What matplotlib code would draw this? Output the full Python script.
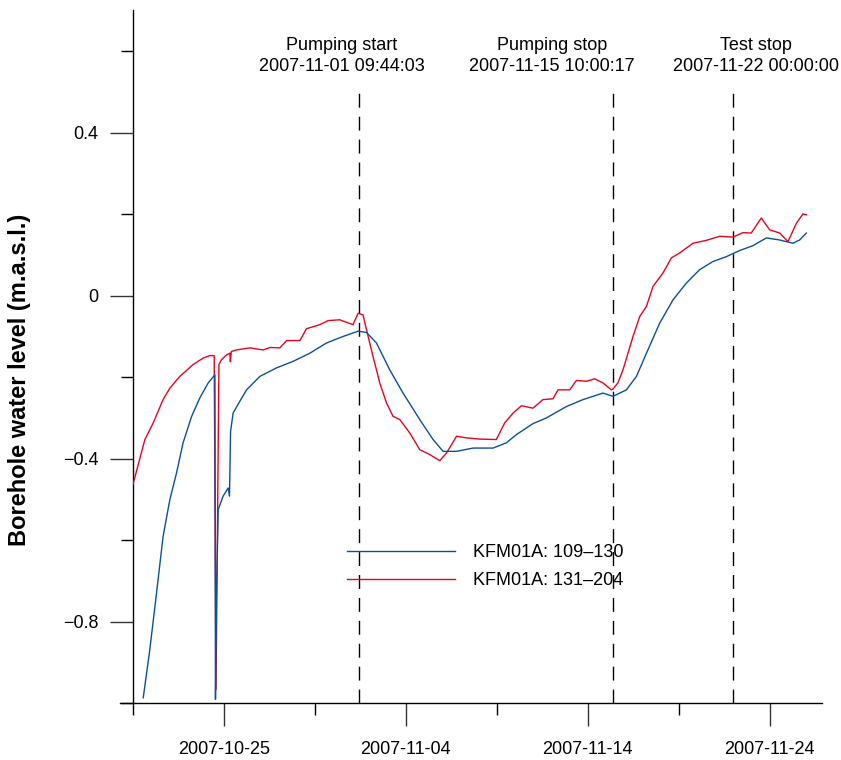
import datetime as dt
import numpy as np
import matplotlib
matplotlib.use("Agg")
import matplotlib.pyplot as plt
import matplotlib.dates as mdates
import matplotlib.ticker as ticker

plt.rcParams['font.family'] = ['Liberation Sans', 'DejaVu Sans']

# days after 2007-10-25 and borehole level (m.a.s.l.)
base_day = dt.datetime(2007, 10, 25)

red_days = [-5.0, -4.34, -3.88, -3.34, -2.97, -2.42, -1.69, -1.14, -0.77, -0.53,
            -0.43, -0.27, -0.13, 0.15, 0.33, 0.36, 0.41, 0.70, 1.43, 2.16,
            2.53, 3.08, 3.45, 4.18, 4.54, 5.27, 5.73, 6.37, 7.10, 7.38,
            7.65, 7.84, 8.20, 8.57, 8.94, 9.30, 9.67, 10.22, 10.77, 11.32,
            11.87, 12.24, 12.79, 13.34, 14.07, 14.98, 15.44, 15.90, 16.36, 16.99,
            17.54, 18.09, 18.37, 19.01, 19.38, 19.93, 20.38, 20.84, 21.30, 21.39,
            21.66, 21.94, 22.49, 22.86, 23.23, 23.59, 24.14, 24.60, 25.05, 25.79,
            26.52, 27.25, 27.98, 28.53, 28.99, 29.54, 30.00, 30.55, 31.01, 31.47,
            31.83, 32.02]
red_level = [-0.464, -0.353, -0.312, -0.255, -0.227, -0.198, -0.169, -0.153, -0.147, -0.147,
             -0.967, -0.169, -0.157, -0.145, -0.141, -0.162, -0.137, -0.133, -0.128, -0.133,
             -0.127, -0.128, -0.110, -0.110, -0.081, -0.071, -0.061, -0.059, -0.071, -0.043,
             -0.047, -0.083, -0.149, -0.214, -0.263, -0.296, -0.304, -0.337, -0.378, -0.390,
             -0.405, -0.386, -0.345, -0.349, -0.352, -0.353, -0.312, -0.288, -0.270, -0.276,
             -0.255, -0.253, -0.231, -0.231, -0.208, -0.210, -0.204, -0.214, -0.231, -0.229,
             -0.214, -0.182, -0.100, -0.051, -0.026, 0.023, 0.056, 0.093, 0.105, 0.129,
             0.136, 0.146, 0.144, 0.155, 0.154, 0.191, 0.162, 0.154, 0.133, 0.178,
             0.201, 0.199]

blue_days = [-4.43, -4.07, -3.70, -3.34, -2.97, -2.60, -2.24, -1.77, -1.32, -0.86,
             -0.49, -0.46, -0.41, -0.31, -0.04, 0.24, 0.31, 0.37, 0.51, 0.88,
             1.25, 1.98, 2.90, 3.81, 4.73, 5.64, 6.55, 7.38, 7.84, 8.39,
             9.12, 9.85, 10.77, 11.50, 12.05, 12.79, 13.70, 14.80, 15.53, 16.08,
             16.99, 17.73, 18.83, 19.74, 20.84, 21.39, 22.13, 22.68, 23.23, 23.96,
             24.69, 25.42, 26.15, 26.88, 27.62, 28.35, 29.08, 29.82, 30.55, 31.28,
             31.65, 32.02]
blue_level = [-0.987, -0.869, -0.730, -0.591, -0.501, -0.435, -0.361, -0.296, -0.251, -0.214,
              -0.194, -0.991, -0.746, -0.525, -0.492, -0.472, -0.492, -0.333, -0.288, -0.259,
              -0.231, -0.198, -0.177, -0.161, -0.141, -0.116, -0.100, -0.087, -0.090, -0.116,
              -0.182, -0.239, -0.304, -0.353, -0.382, -0.382, -0.374, -0.374, -0.361, -0.341,
              -0.314, -0.300, -0.272, -0.255, -0.239, -0.247, -0.231, -0.198, -0.141, -0.067,
              -0.010, 0.031, 0.064, 0.084, 0.096, 0.111, 0.123, 0.142, 0.137, 0.129,
              0.137, 0.154]

series_labels = ['KFM01A: 109\u2013130', 'KFM01A: 131\u2013204']

events = [('Pumping start', dt.datetime(2007, 11, 1, 9, 44, 3)),
          ('Pumping stop', dt.datetime(2007, 11, 15, 10, 0, 17)),
          ('Test stop', dt.datetime(2007, 11, 22, 0, 0, 0))]
event_text_x = [0.303, 0.608, 0.904]

blue = '#0b4fa0'
red = '#e3051e'

fig = plt.figure(figsize=(8.41, 7.6), dpi=100)
ax = fig.add_axes([0.158, 0.075, 0.819, 0.912])

b0 = mdates.date2num(base_day)
red_x = b0 + np.array(red_days)
blue_x = b0 + np.array(blue_days)

ax.plot(red_x, red_level, color=red, lw=1.0, zorder=3)
ax.plot(blue_x, blue_level, color=blue, lw=1.0, zorder=4)

# event markers
for (name, when), tx in zip(events, event_text_x):
    ax.axvline(mdates.date2num(when), ymin=0, ymax=0.882, color='black',
               lw=1.0, dashes=(10, 6.5), zorder=2)
    ax.text(tx, 0.933, name + '\n' + when.strftime('%Y-%m-%d %H:%M:%S'),
            transform=ax.transAxes, ha='center', va='center', fontsize=13,
            linespacing=1.32, clip_on=False)

ax.set_xlim(b0 - 5, b0 + 32.86)
ax.set_ylim(-1.0, 0.702)

ax.xaxis.set_major_locator(ticker.FixedLocator(b0 + np.array([0, 10, 20, 30])))
ax.xaxis.set_minor_locator(ticker.FixedLocator(b0 + np.array([-5, 5, 15, 25])))
ax.xaxis.set_major_formatter(mdates.DateFormatter('%Y-%m-%d'))
ax.yaxis.set_major_locator(ticker.FixedLocator([-0.8, -0.4, 0, 0.4]))
ax.yaxis.set_minor_locator(ticker.FixedLocator([-1.0, -0.6, -0.2, 0.2, 0.6]))
ax.yaxis.set_major_formatter(ticker.FuncFormatter(
    lambda v, p: '0' if abs(v) < 1e-9 else ('%.1f' % v).replace('-', '\u2212')))

ax.tick_params(axis='both', which='major', direction='out', length=16.5, width=1.0,
               labelsize=13, color='#333333')
ax.tick_params(axis='both', which='minor', direction='out', length=8.5, width=1.0)
ax.tick_params(axis='x', which='major', pad=11)
ax.tick_params(axis='y', which='major', pad=8.5)

for s in ['top', 'right']:
    ax.spines[s].set_visible(False)
ax.spines['left'].set_linewidth(1.0)
ax.spines['bottom'].set_linewidth(1.0)
ax.plot([-0.019, 0], [0, 0], transform=ax.transAxes, color='black', lw=1.0,
        clip_on=False)

ax.set_ylabel('Borehole water level (m.a.s.l.)', fontsize=17, fontweight='bold')
ax.yaxis.set_label_coords(-0.148, 0.466)

h_blue, = ax.plot([], [], color=blue, lw=1.0)
h_red, = ax.plot([], [], color=red, lw=1.0)
ax.legend([h_blue, h_red], series_labels, loc='upper left',
          bbox_to_anchor=(0.3106, 0.229), frameon=False, fontsize=13,
          handlelength=6.0, handletextpad=1.0, borderpad=0, borderaxespad=0,
          labelspacing=0.62)

fig.savefig('out.png', dpi=100)
